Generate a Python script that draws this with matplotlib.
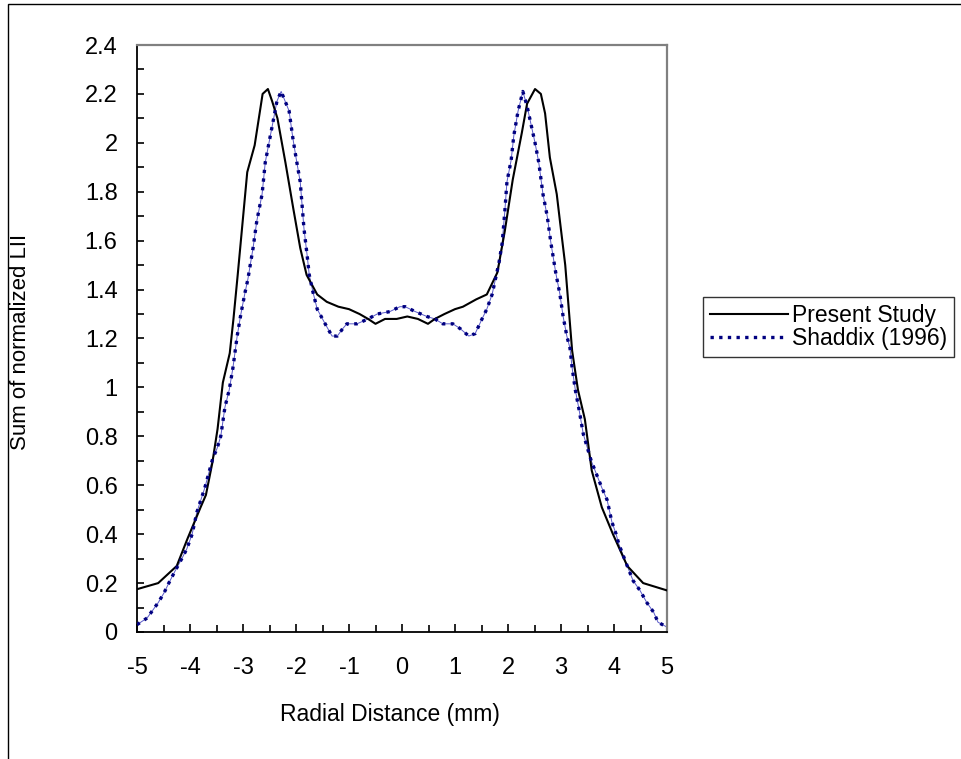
import matplotlib
matplotlib.use("Agg")
import matplotlib.pyplot as plt
from matplotlib.patches import Rectangle
from matplotlib.ticker import MultipleLocator, FuncFormatter

plt.rcParams['font.family'] = ['Liberation Sans', 'DejaVu Sans']
plt.rcParams['axes.unicode_minus'] = False

# Present Study
present_x = [-5, -4.6, -4.25, -4.05, -3.8, -3.7, -3.58, -3.48, -3.38, -3.25,
             -3.18, -3.1, -2.92, -2.78, -2.63, -2.53, -2.45, -2.35, -2.2, -2.05,
             -1.92, -1.8, -1.6, -1.42, -1.2, -1.0, -0.8, -0.64, -0.5, -0.32,
             -0.1, 0.1, 0.3, 0.49, 0.62, 0.8, 1.0, 1.15, 1.4, 1.6,
             1.8, 1.94, 2.09, 2.26, 2.36, 2.51, 2.62, 2.7, 2.79, 2.92,
             2.98, 3.08, 3.21, 3.32, 3.45, 3.58, 3.77, 3.98, 4.25, 4.55, 5.0]
present_y = [0.175, 0.20, 0.27, 0.38, 0.51, 0.56, 0.69, 0.83, 1.02, 1.14,
             1.28, 1.46, 1.88, 1.99, 2.20, 2.22, 2.17, 2.10, 1.92, 1.73,
             1.57, 1.46, 1.38, 1.35, 1.33, 1.32, 1.30, 1.28, 1.26, 1.28,
             1.28, 1.29, 1.28, 1.26, 1.28, 1.30, 1.32, 1.33, 1.36, 1.38,
             1.47, 1.64, 1.85, 2.04, 2.16, 2.22, 2.20, 2.12, 1.94, 1.79,
             1.68, 1.50, 1.15, 0.99, 0.87, 0.66, 0.51, 0.40, 0.27, 0.20, 0.17]

# Shaddix (1996)
shaddix_x = [-5.0, -4.81, -4.70, -4.60, -4.49, -4.40, -4.28, -4.13, -4.06, -3.96,
             -3.87, -3.72, -3.57, -3.49, -3.42, -3.34, -3.26, -3.19, -3.11, -3.04,
             -2.96, -2.91, -2.81, -2.74, -2.64, -2.58, -2.51, -2.43, -2.36, -2.28,
             -2.13, -2.06, -2.0, -1.92, -1.85, -1.79, -1.75, -1.68, -1.60, -1.45,
             -1.32, -1.22, -1.12, -1.04, -0.85, -0.64, -0.47, -0.23, -0.04, 0.06,
             0.25, 0.47, 0.62, 0.77, 0.96, 1.10, 1.26, 1.38, 1.51, 1.60,
             1.70, 1.75, 1.83, 1.89, 1.94, 1.98, 2.06, 2.11, 2.19, 2.28,
             2.36, 2.42, 2.51, 2.58, 2.66, 2.74, 2.81, 2.90, 2.98, 3.04,
             3.11, 3.17, 3.21, 3.27, 3.34, 3.42, 3.57, 3.77, 3.87, 3.96,
             4.04, 4.09, 4.25, 4.36, 4.49, 4.62, 4.75, 4.83, 5.0]
shaddix_y = [0.03, 0.057, 0.09, 0.12, 0.16, 0.20, 0.25, 0.31, 0.34, 0.40,
             0.49, 0.59, 0.71, 0.75, 0.80, 0.92, 0.99, 1.08, 1.21, 1.30,
             1.39, 1.44, 1.57, 1.68, 1.79, 1.92, 2.00, 2.09, 2.17, 2.21,
             2.13, 2.02, 1.94, 1.84, 1.65, 1.54, 1.46, 1.39, 1.32, 1.26,
             1.21, 1.21, 1.24, 1.26, 1.26, 1.28, 1.30, 1.31, 1.33, 1.33,
             1.31, 1.29, 1.28, 1.26, 1.26, 1.24, 1.21, 1.22, 1.28, 1.32,
             1.38, 1.43, 1.51, 1.59, 1.72, 1.84, 1.93, 2.03, 2.13, 2.21,
             2.15, 2.09, 2.00, 1.92, 1.79, 1.70, 1.59, 1.47, 1.38, 1.29,
             1.21, 1.16, 1.08, 0.99, 0.91, 0.81, 0.70, 0.59, 0.54, 0.45,
             0.40, 0.36, 0.27, 0.21, 0.17, 0.12, 0.08, 0.04, 0.02]

series_labels = ["Present Study", "Shaddix (1996)"]
x_label = "Radial Distance (mm)"
y_label = "Sum of normalized LII"

W, H = 961, 759
fig = plt.figure(figsize=(W / 100, H / 100), dpi=100)
fig.patch.set_facecolor('white')

L, R, T, B = 137, 667, 45, 632
ax = fig.add_axes([L / W, 1 - B / H, (R - L) / W, (B - T) / H])

ax.plot(present_x, present_y, color='black', lw=1.5, label=series_labels[0],
        solid_joinstyle='round', zorder=3)
ax.plot(shaddix_x, shaddix_y, color='#5a5ac8', lw=0.7, zorder=2)
ax.plot(shaddix_x, shaddix_y, color='#000080', lw=2.4, linestyle=(0, (1.0, 1.6)),
        dash_capstyle='butt', label=series_labels[1], zorder=4)

ax.set_xlim(-5, 5)
ax.set_ylim(0, 2.4)

ax.xaxis.set_major_locator(MultipleLocator(1))
ax.xaxis.set_minor_locator(MultipleLocator(0.5))
ax.yaxis.set_major_locator(MultipleLocator(0.2))
ax.yaxis.set_minor_locator(MultipleLocator(0.1))
fmt = FuncFormatter(lambda v, p: ('%g' % round(v, 3)))
ax.xaxis.set_major_formatter(fmt)
ax.yaxis.set_major_formatter(fmt)

ax.tick_params(axis='both', which='both', direction='in', labelsize=17,
               colors='black', width=1.2)
ax.tick_params(axis='x', which='major', length=6, pad=18)
ax.tick_params(axis='x', which='minor', length=4.8)
ax.tick_params(axis='y', which='major', length=4.8, pad=14)
ax.tick_params(axis='y', which='minor', length=4.8)

for s in ['left', 'bottom']:
    ax.spines[s].set_color('black')
    ax.spines[s].set_linewidth(1.3)
for s in ['top', 'right']:
    ax.spines[s].set_color('#808080')
    ax.spines[s].set_linewidth(1.6)

fig.text(390 / W, 1 - 714 / H, x_label, fontsize=16.5, ha='center', va='center')
fig.text(21 / W, 1 - 342 / H, y_label, fontsize=16, ha='center', va='center',
         rotation=90)

leg = fig.legend(loc='upper left', bbox_to_anchor=(703 / W, 1 - 297 / H),
                 bbox_transform=fig.transFigure, borderaxespad=0,
                 fontsize=16.5, frameon=True, fancybox=False, shadow=False,
                 handlelength=3.4, handletextpad=0.2, borderpad=0.3,
                 labelspacing=0.0)
leg.get_frame().set_edgecolor('black')
leg.get_frame().set_linewidth(1.0)

fig.patches.append(Rectangle((8 / W, -0.1), 1.2, 1.1 - 4 / H,
                             transform=fig.transFigure, fill=False,
                             ec='black', lw=1.0))

fig.savefig('out.png', dpi=100)
